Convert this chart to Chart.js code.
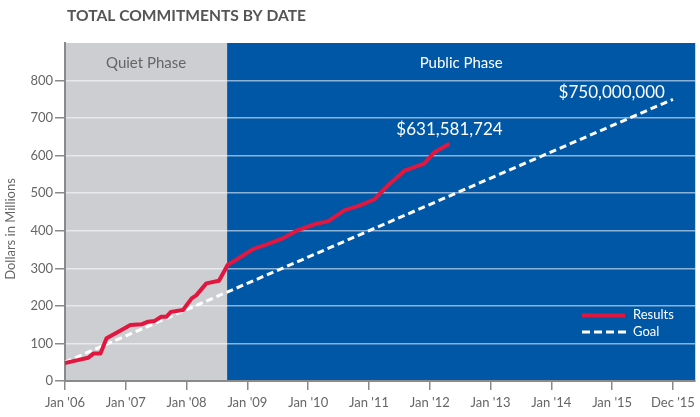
<!DOCTYPE html>
<html>
<head>
<meta charset="utf-8">
<script src="https://cdn.jsdelivr.net/npm/chart.js@4.4.0/dist/chart.umd.min.js"></script>
<style>
  html, body { margin: 0; padding: 0; background: #fff; }
</style>
</head>
<body>
<canvas id="commitChart" width="700" height="417"></canvas>
<script>
// months since Jan 2006
var resultMonths = [0, 2.3, 4.6, 5.6, 7.0, 8.2, 10.8, 12.9, 15.1, 16.4, 17.7, 19.0, 20.0, 20.9, 23.3, 25.0, 25.9, 27.9, 30.4, 32.1, 34.5, 37.1, 39.7, 43.0, 46.0, 49.3, 51.9, 55.2, 58.1, 61.1, 64.0, 67.0, 70.9, 72.9, 75.9];
var resultValues = [48, 55, 62, 73, 73, 114, 133, 149, 151, 158, 160, 171, 171, 184, 189, 220, 228, 260, 267, 309, 329, 351, 363, 380, 402, 418, 425, 455, 467, 484, 524, 560, 579, 609, 631.6];
var goalMonths = [0, 120];
var goalValues = [50, 750];
var tickMonths = [0, 12, 24, 36, 48, 60, 72, 84, 96, 108, 120];
var tickLabels = ["Jan '06", "Jan '07", "Jan '08", "Jan '09", "Jan '10", "Jan '11", "Jan '12", "Jan '13", "Jan '14", "Jan '15", "Dec '15"];
var phaseNames = ['Quiet Phase', 'Public Phase'];
var publicStart = 32;
var endLabels = ['$631,581,724', '$750,000,000'];
var seriesNames = ['Results', 'Goal'];

var FONT = 'Lato, "Open Sans", sans-serif';
var GREY_TEXT = '#666';
var RED = '#E2173F';

function toPoints(xs, ys) {
  return xs.map(function (m, i) { return { x: m, y: ys[i] }; });
}

var decor = {
  id: 'decor',
  beforeDraw: function (chart) {
    var a = chart.chartArea, ctx = chart.ctx;
    var split = chart.scales.x.getPixelForValue(publicStart);
    ctx.save();
    ctx.fillStyle = '#CDCED2';
    ctx.fillRect(a.left, a.top, split - a.left, a.bottom - a.top);
    ctx.fillStyle = '#0057A6';
    ctx.fillRect(split, a.top, a.right - split, a.bottom - a.top);
    ctx.restore();
  },
  afterDatasetsDraw: function (chart) {
    var a = chart.chartArea, ctx = chart.ctx;
    var xs = chart.scales.x, ys = chart.scales.y;
    var split = xs.getPixelForValue(publicStart);
    ctx.save();
    // title
    ctx.fillStyle = '#555';
    ctx.font = 'bold 15.6px ' + FONT;
    ctx.textAlign = 'left';
    ctx.textBaseline = 'alphabetic';
    ctx.fillText('TOTAL COMMITMENTS BY DATE', 67, 21);
    // y axis title
    ctx.save();
    ctx.translate(15, 229);
    ctx.rotate(-Math.PI / 2);
    ctx.font = '13px ' + FONT;
    ctx.fillStyle = GREY_TEXT;
    ctx.textAlign = 'center';
    ctx.fillText('Dollars in Millions', 0, 0);
    ctx.restore();
    // phase labels
    ctx.font = '15px ' + FONT;
    ctx.textAlign = 'center';
    ctx.fillStyle = GREY_TEXT;
    ctx.fillText(phaseNames[0], (a.left + split) / 2, 68);
    ctx.fillStyle = '#fff';
    ctx.fillText(phaseNames[1], (split + a.right) / 2, 68);
    // end labels
    ctx.font = '17px ' + FONT;
    var n = resultMonths.length - 1;
    ctx.fillText(endLabels[0], xs.getPixelForValue(resultMonths[n]), ys.getPixelForValue(resultValues[n]) - 9);
    ctx.textAlign = 'right';
    ctx.fillText(endLabels[1], xs.getPixelForValue(goalMonths[1]) - 8, ys.getPixelForValue(goalValues[1]) - 1);
    // legend
    ctx.lineCap = 'butt';
    ctx.strokeStyle = RED;
    ctx.lineWidth = 4;
    ctx.beginPath(); ctx.moveTo(582, 315.5); ctx.lineTo(625, 315.5); ctx.stroke();
    ctx.strokeStyle = '#fff';
    ctx.lineWidth = 3;
    ctx.setLineDash([8, 4]);
    ctx.beginPath(); ctx.moveTo(582, 332); ctx.lineTo(626, 332); ctx.stroke();
    ctx.setLineDash([]);
    ctx.font = '13px ' + FONT;
    ctx.textAlign = 'left';
    ctx.textBaseline = 'middle';
    ctx.fillStyle = '#fff';
    ctx.fillText(seriesNames[0], 633, 315);
    ctx.fillText(seriesNames[1], 633, 332);
    ctx.restore();
  }
};

new Chart(document.getElementById('commitChart').getContext('2d'), {
  type: 'line',
  data: {
    datasets: [{
      label: seriesNames[0],
      data: toPoints(resultMonths, resultValues),
      borderColor: RED,
      borderWidth: 4,
      pointRadius: 0,
      borderJoinStyle: 'round',
      tension: 0
    }, {
      label: seriesNames[1],
      data: toPoints(goalMonths, goalValues),
      borderColor: '#fff',
      borderWidth: 3,
      borderDash: [7, 4],
      pointRadius: 0
    }]
  },
  options: {
    responsive: false,
    animation: false,
    layout: { padding: { top: 43, right: 3, left: 0, bottom: 0 } },
    plugins: { legend: { display: false }, tooltip: { enabled: false } },
    scales: {
      x: {
        type: 'linear',
        min: 0,
        max: 124.4,
        afterBuildTicks: function (s) { s.ticks = tickMonths.map(function (v) { return { value: v }; }); },
        afterFit: function (s) { s.height = 36; },
        ticks: {
          autoSkip: false, maxRotation: 0, padding: 5, color: GREY_TEXT,
          font: { family: FONT, size: 13 },
          callback: function (v, i) { return tickLabels[i]; }
        },
        grid: { drawOnChartArea: false, tickColor: '#8a8a8a', tickLength: 9, lineWidth: 1.5 },
        border: { color: '#8a8a8a', width: 2 }
      },
      y: {
        min: 0,
        max: 900,
        afterBuildTicks: function (s) { s.ticks = s.ticks.filter(function (t) { return t.value <= 800; }); },
        afterFit: function (s) { s.width = 65; },
        ticks: { stepSize: 100, padding: 2, color: GREY_TEXT, font: { family: FONT, size: 13 } },
        grid: {
          color: function (c) { return c.tick && c.tick.value === 0 ? 'rgba(0,0,0,0)' : 'rgba(255,255,255,0.55)'; },
          tickColor: '#8a8a8a', tickLength: 10, lineWidth: 1.5
        },
        border: { color: '#8a8a8a', width: 2 }
      }
    }
  },
  plugins: [decor]
});
</script>
</body>
</html>
